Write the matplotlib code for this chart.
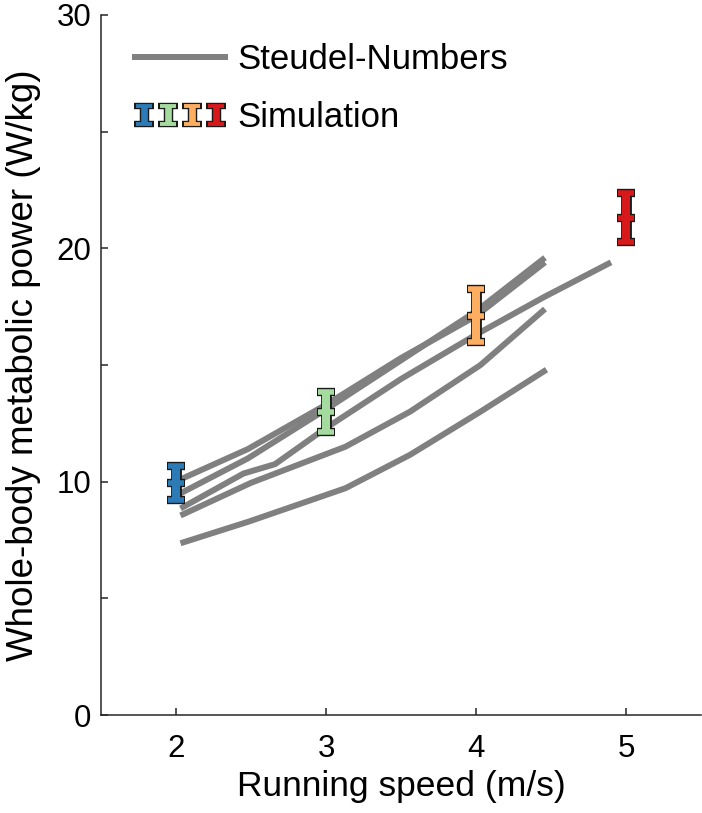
import matplotlib
matplotlib.use("Agg")
import matplotlib.pyplot as plt
from matplotlib.lines import Line2D
from matplotlib.legend_handler import HandlerBase

plt.rcParams['font.family'] = ['Liberation Sans', 'DejaVu Sans']

# Steudel-Numbers: speed (m/s) vs metabolic power (W/kg)
steudel_v1 = [2.03, 2.48, 3.0, 3.5, 4.0, 4.46]
steudel_p1 = [10.1, 11.4, 13.3, 15.3, 17.1, 19.4]
steudel_v2 = [2.03, 2.48, 3.0, 3.5, 4.0, 4.46]
steudel_p2 = [9.5, 11.0, 13.1, 15.2, 17.3, 19.6]
steudel_v3 = [2.03, 2.45, 2.66, 3.0, 3.5, 4.0, 4.45, 4.9]
steudel_p3 = [8.85, 10.35, 10.75, 12.3, 14.4, 16.3, 17.9, 19.4]
steudel_v4 = [2.03, 2.5, 3.13, 3.56, 4.03, 4.46]
steudel_p4 = [8.55, 9.95, 11.5, 13.0, 15.0, 17.4]
steudel_v5 = [2.03, 2.49, 3.13, 3.56, 4.03, 4.47]
steudel_p5 = [7.36, 8.3, 9.72, 11.15, 13.0, 14.8]
steudel_v = [steudel_v1, steudel_v2, steudel_v3, steudel_v4, steudel_v5]
steudel_p = [steudel_p1, steudel_p2, steudel_p3, steudel_p4, steudel_p5]

# simulation: mean +- sd
sim_speed = [2, 3, 4, 5]
sim_mean = [9.95, 12.97, 17.12, 21.3]
sim_sd = [0.72, 0.86, 1.14, 1.05]
sim_colors = ['#2c7bb6', '#a6dba0', '#fdae61', '#d7191c']

grey = '#808080'
edge = '#1a1a1a'


class SimGlyph:
    pass


class SimHandler(HandlerBase):
    # four little error-bar icons in the legend
    def create_artists(self, legend, orig_handle, xdescent, ydescent,
                       width, height, fontsize, trans):
        out = []
        yc = -ydescent + height / 2
        y0, y1 = yc - 6.6, yc + 6.6
        for f, c in zip([0.1, 0.367, 0.633, 0.9], sim_colors):
            x = -xdescent + f * width
            for col, lw, ms, mew in [(edge, 6.8, 14, 4.6), (c, 4.8, 12, 2.8)]:
                stem = Line2D([x, x], [y0, y1], color=col, lw=lw,
                              solid_capstyle='butt')
                caps = Line2D([x, x], [y0, y1], ls='none', marker='_',
                              ms=ms, mew=mew, color=col)
                for a in (stem, caps):
                    a.set_transform(trans)
                    out.append(a)
        return out


fig = plt.figure(figsize=(7.02, 8.13), dpi=100)
ax = fig.add_axes([101 / 702, 1 - 715 / 813, 600 / 702, 700 / 813])

for v, p in zip(steudel_v, steudel_p):
    ax.plot(v, p, color=grey, lw=4.3, solid_capstyle='butt', zorder=2)

# outline layer then coloured layer
for i in range(len(sim_speed)):
    ax.errorbar(sim_speed[i], sim_mean[i], yerr=sim_sd[i], fmt='_',
                color=edge, ms=13.5, mew=6, elinewidth=7.8,
                capsize=6.75, capthick=7, zorder=3)
    ax.errorbar(sim_speed[i], sim_mean[i], yerr=sim_sd[i], fmt='_',
                color=sim_colors[i], ms=11.5, mew=4, elinewidth=5.8,
                capsize=5.75, capthick=5, zorder=4)

ax.set_xlim(1.5, 5.5)
ax.set_ylim(0, 30)
ax.set_xticks([2, 3, 4, 5])
ax.set_yticks([0, 5, 10, 15, 20, 25, 30])
ax.set_yticklabels(['0', '', '10', '', '20', '', '30'])

for s in ['top', 'right']:
    ax.spines[s].set_visible(False)
for s in ['left', 'bottom']:
    ax.spines[s].set_linewidth(1.1)
    ax.spines[s].set_color('#262626')

ax.tick_params(axis='both', direction='in', length=5, width=1.1,
               color='#262626', labelsize=22.5)
ax.tick_params(axis='x', pad=14)
ax.tick_params(axis='y', pad=7)

ax.set_xlabel('Running speed (m/s)', fontsize=25.5)
ax.set_ylabel('Whole-body metabolic power (W/kg)', fontsize=26.5)
ax.xaxis.set_label_coords(0.5, -0.078)
ax.yaxis.set_label_coords(-0.1, 0.5)

ax.legend([Line2D([], [], color=grey, lw=4.3), SimGlyph()],
          ['Steudel-Numbers', 'Simulation'],
          handler_map={SimGlyph: SimHandler()},
          loc='upper left', bbox_to_anchor=(0.057, 0.96),
          frameon=False, fontsize=25, borderpad=0, borderaxespad=0,
          handlelength=2.6, handletextpad=0.35, labelspacing=0.72)

fig.savefig('out.png', dpi=100)
